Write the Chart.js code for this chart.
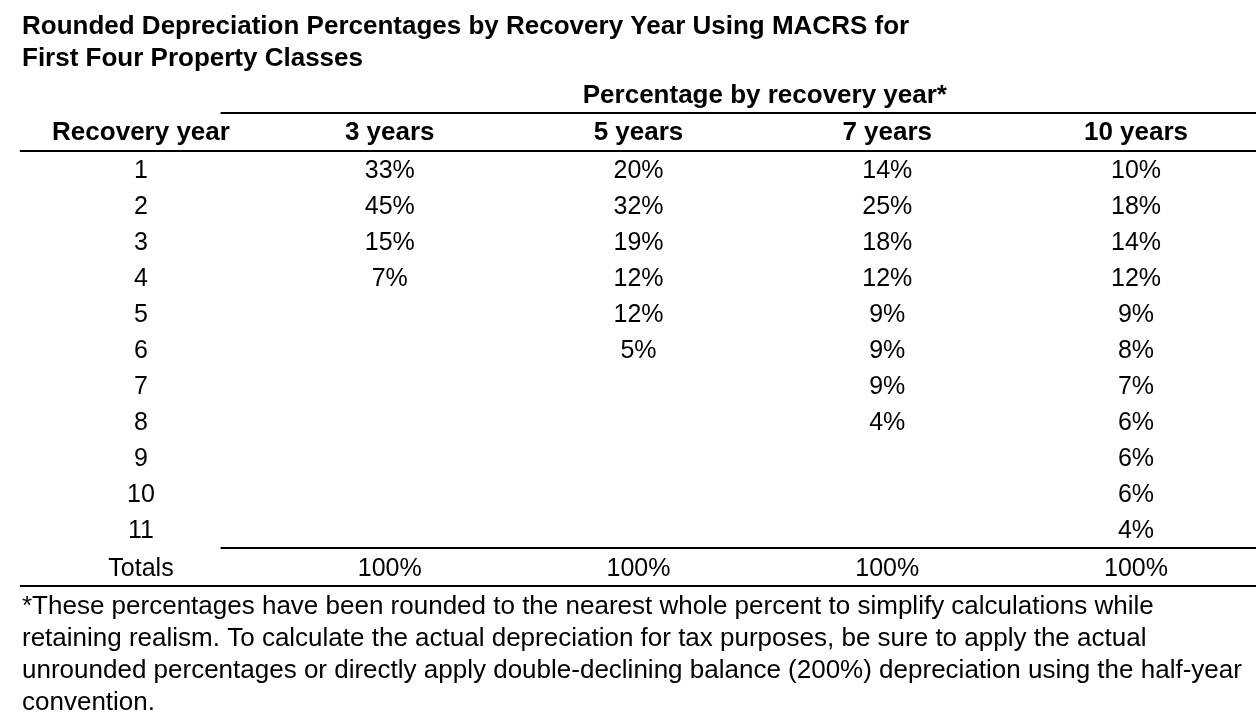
<!DOCTYPE html>
<html>
<head>
<meta charset="utf-8">
<script src="https://cdn.jsdelivr.net/npm/chart.js@4.4.1/dist/chart.umd.min.js"></script>
<style>
  html, body { margin: 0; padding: 0; background: #ffffff; }
  #wrap { width: 1256px; height: 726px; }
</style>
</head>
<body>
<div id="wrap"><canvas id="c" width="1256" height="726"></canvas></div>
<script>
// ---------- data ----------
const titleLines = [
  'Rounded Depreciation Percentages by Recovery Year Using MACRS for',
  'First Four Property Classes'
];
const groupHeader = 'Percentage by recovery year*';
const firstColumnHeader = 'Recovery year';
const propertyClasses = ['3 years', '5 years', '7 years', '10 years'];
const recoveryYears = [1, 2, 3, 4, 5, 6, 7, 8, 9, 10, 11];
const pct3yr  = [33, 45, 15, 7];
const pct5yr  = [20, 32, 19, 12, 12, 5];
const pct7yr  = [14, 25, 18, 12, 9, 9, 9, 4];
const pct10yr = [10, 18, 14, 12, 9, 8, 7, 6, 6, 6, 4];
const totalsLabel = 'Totals';
const totals = [100, 100, 100, 100];
const footnoteLines = [
  '*These percentages have been rounded to the nearest whole percent to simplify calculations while',
  'retaining realism. To calculate the actual depreciation for tax purposes, be sure to apply the actual',
  'unrounded percentages or directly apply double-declining balance (200%) depreciation using the half-year',
  'convention.'
];

// ---------- layout (scale units: x = column index, y = row index) ----------
const seriesValues = [pct3yr, pct5yr, pct7yr, pct10yr];
const HEADER_ROW = -0.05;
const GROUP_ROW = -1.08;
const TOTAL_ROW = 12.05;
const TITLE_ROW = -3.0;
const FOOT_ROW = 13.13;
const TEXT_DY = 2;
const FONT = '"Liberation Sans", Arial, Helvetica, sans-serif';

// datasets: one per table column, points placed on the table grid via scales
const datasets = [];
datasets.push({
  label: firstColumnHeader,
  data: recoveryYears.map(r => ({ x: 0, y: r, text: String(r) }))
    .concat([{ x: 0, y: TOTAL_ROW, text: totalsLabel }]),
  pointRadius: 0, showLine: false
});
seriesValues.forEach((vals, ci) => {
  datasets.push({
    label: propertyClasses[ci],
    data: vals.map((v, ri) => ({ x: ci + 1, y: recoveryYears[ri], text: v + '%' }))
      .concat([{ x: ci + 1, y: TOTAL_ROW, text: totals[ci] + '%' }]),
    pointRadius: 0, showLine: false
  });
});

const tablePlugin = {
  id: 'tablePlugin',
  beforeDraw(chart) {
    const ctx = chart.ctx;
    ctx.save();
    ctx.fillStyle = '#ffffff';
    ctx.fillRect(0, 0, chart.width, chart.height);
    ctx.restore();
  },
  afterDatasetsDraw(chart) {
    const ctx = chart.ctx;
    const xs = chart.scales.x, ys = chart.scales.y;
    ctx.save();
    ctx.fillStyle = '#000000';
    ctx.textBaseline = 'middle';

    // title
    ctx.font = 'bold 26px ' + FONT;
    ctx.textAlign = 'left';
    const ty = ys.getPixelForValue(TITLE_ROW) + TEXT_DY;
    titleLines.forEach((t, i) => ctx.fillText(t, 22, ty + i * 32));

    // group header
    ctx.textAlign = 'center';
    ctx.font = 'bold 26px ' + FONT;
    ctx.fillText(groupHeader, (xs.getPixelForValue(1) + xs.getPixelForValue(4)) / 2 + 2, ys.getPixelForValue(GROUP_ROW) + TEXT_DY);

    // column headers
    const hy = ys.getPixelForValue(HEADER_ROW) + TEXT_DY;
    ctx.fillText(firstColumnHeader, xs.getPixelForValue(0), hy);
    propertyClasses.forEach((h, i) => ctx.fillText(h, xs.getPixelForValue(i + 1), hy));

    // cells via dataset elements
    ctx.font = '25px ' + FONT;
    chart.data.datasets.forEach((ds, di) => {
      const meta = chart.getDatasetMeta(di);
      meta.data.forEach((pt, pi) => {
        ctx.fillText(ds.data[pi].text, pt.x, pt.y + TEXT_DY);
      });
    });

    // rules
    ctx.strokeStyle = '#000000';
    ctx.lineWidth = 2;
    const rule = (x0, x1, yv) => {
      const y = Math.round(ys.getPixelForValue(yv));
      ctx.beginPath();
      ctx.moveTo(xs.getPixelForValue(x0), y);
      ctx.lineTo(x1 === null ? chart.width : xs.getPixelForValue(x1), y);
      ctx.stroke();
    };
    rule(0.32, null, -0.555);
    rule(-0.487, null, 0.5);
    rule(0.32, null, 11.53);
    rule(-0.487, null, 12.58);

    // footnote
    ctx.textAlign = 'left';
    ctx.font = '26px ' + FONT;
    const fy = ys.getPixelForValue(FOOT_ROW) + 1;
    footnoteLines.forEach((t, i) => ctx.fillText(t, 22, fy + i * 32));
    ctx.restore();
  }
};

new Chart(document.getElementById('c'), {
  type: 'scatter',
  data: { datasets },
  options: {
    responsive: false,
    animation: false,
    devicePixelRatio: 1,
    layout: { padding: 0 },
    plugins: { legend: { display: false }, tooltip: { enabled: false }, title: { display: false } },
    scales: {
      x: { type: 'linear', display: false, min: -0.5668, max: 4.4824 },
      y: { type: 'linear', display: false, reverse: true, min: -3.694, max: 16.472 }
    }
  },
  plugins: [tablePlugin]
});
</script>
</body>
</html>
